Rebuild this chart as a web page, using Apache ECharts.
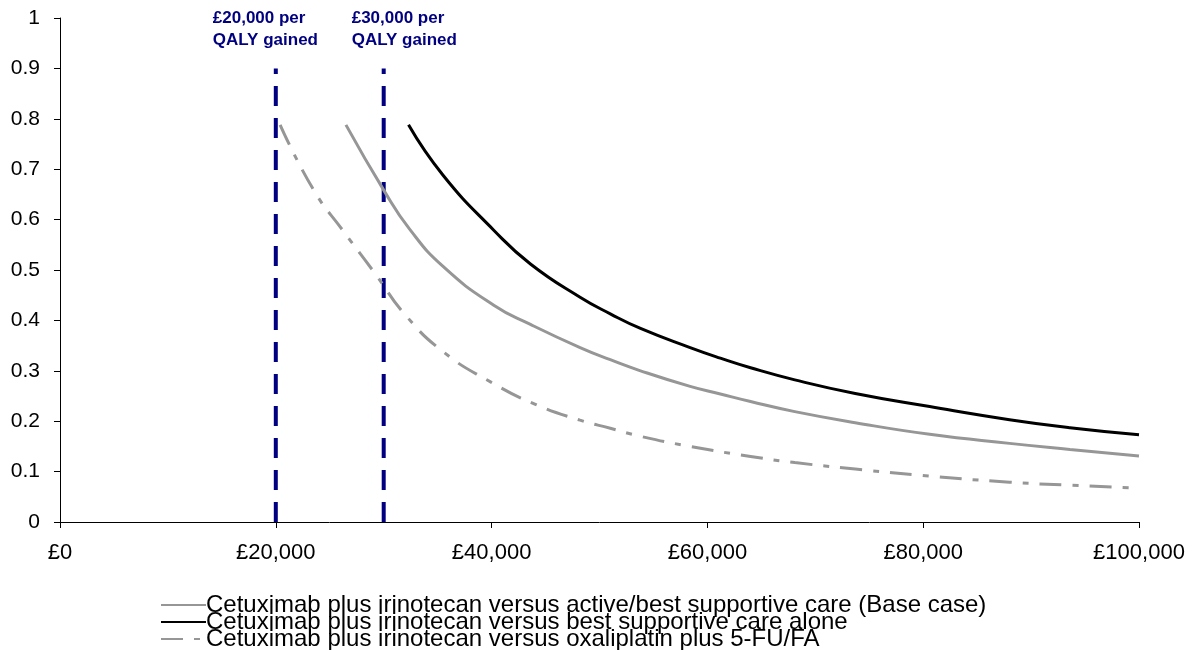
<!DOCTYPE html>
<html>
<head>
<meta charset="utf-8">
<script src="https://cdn.jsdelivr.net/npm/echarts@6/dist/echarts.min.js"></script>
<style>html,body{margin:0;padding:0;background:#fff}#c{width:1197px;height:650px}</style>
</head>
<body>
<div id="c"></div>
<script>
// Data
const xTicks = [0, 20000, 40000, 60000, 80000, 100000];
const seriesNames = [
  'Cetuximab plus irinotecan versus active/best supportive care (Base case)',
  'Cetuximab plus irinotecan versus best supportive care alone',
  'Cetuximab plus irinotecan versus oxaliplatin plus 5-FU/FA'
];
const baseX = [26500, 30100, 32400, 35500, 40200, 43600, 48200, 51000, 53800, 58400, 61200, 64000, 68100, 73700, 80600, 88000, 93600, 100000];
const baseY = [0.788, 0.655, 0.581, 0.507, 0.430, 0.392, 0.346, 0.322, 0.300, 0.269, 0.254, 0.239, 0.219, 0.197, 0.174, 0.156, 0.144, 0.131];
const bscX = [32300, 35500, 40200, 43600, 48200, 51000, 53800, 58400, 61200, 64000, 68100, 73700, 80600, 88000, 93600, 100000];
const bscY = [0.788, 0.688, 0.579, 0.512, 0.446, 0.413, 0.384, 0.346, 0.325, 0.306, 0.282, 0.255, 0.229, 0.203, 0.187, 0.173];
const oxaX = [20400, 23500, 26300, 29200, 32000, 35500, 39900, 44000, 48200, 51000, 53800, 58400, 64000, 68100, 73700, 80600, 88000, 93600, 99900];
const oxaY = [0.788, 0.659, 0.576, 0.493, 0.411, 0.338, 0.278, 0.234, 0.202, 0.186, 0.170, 0.150, 0.130, 0.118, 0.105, 0.091, 0.079, 0.073, 0.067];
const thresholdX = [20000, 30000];
const thresholdTop = 0.9;
const thresholdLabels = ['£20,000 per\nQALY gained', '£30,000 per\nQALY gained'];

const zip = (xs, ys) => xs.map((x, i) => [x, ys[i]]);
const grey = '#969696';
const navy = '#000080';
const font = 'Liberation Sans, Arial, sans-serif';

const thresholdOffsets = [[-63, 0], [-32, 0]];
const thresholdSeries = thresholdX.map((x, i) => ({
  type: 'line',
  name: 'thr' + i,
  data: [[x, 0], [x, thresholdTop]],
  symbol: 'none',
  silent: true,
  lineStyle: { color: navy, width: 4, type: [20, 12] },
  markPoint: {
    symbol: 'circle', symbolSize: 0,
    data: [{ coord: [x, thresholdTop] }],
    label: {
      show: true, position: 'top', distance: 17, offset: thresholdOffsets[i],
      formatter: thresholdLabels[i], color: navy, fontWeight: 'bold',
      fontSize: 17, lineHeight: 22, fontFamily: font, align: 'left'
    }
  }
}));

const legendTops = [593, 610, 627];
const legends = seriesNames.map((n, i) => ({
  data: [n],
  left: 160, top: legendTops[i],
  itemWidth: 45, itemHeight: 14, itemGap: 0,
  padding: 0,
  itemStyle: { opacity: 0 },
  textStyle: { fontSize: 24, lineHeight: 17, color: '#000', fontFamily: font, padding: [0, 0, 0, -5] }
}));

const chart = echarts.init(document.getElementById('c'));
chart.setOption({
  animation: false,
  backgroundColor: '#fff',
  grid: { left: 60, right: 58, top: 18, bottom: 128 },
  legend: legends,
  xAxis: {
    type: 'value', min: 0, max: 100000, interval: 20000,
    axisLine: { lineStyle: { color: '#000', width: 1 } },
    axisTick: { show: true, inside: false, length: 6, lineStyle: { color: '#000' } },
    axisLabel: { color: '#000', fontSize: 22, fontFamily: font, margin: 20,
      formatter: v => '£' + v.toLocaleString('en-GB') },
    splitLine: { show: false }
  },
  yAxis: {
    type: 'value', min: 0, max: 1, interval: 0.1,
    axisLine: { show: true, lineStyle: { color: '#000', width: 1 } },
    axisTick: { show: true, inside: false, length: 6, lineStyle: { color: '#000' } },
    axisLabel: { color: '#000', fontSize: 21, fontFamily: font, margin: 20,
      formatter: v => String(Math.round(v * 10) / 10) },
    splitLine: { show: false }
  },
  series: [
    ...thresholdSeries,
    { type: 'line', name: seriesNames[0], data: zip(baseX, baseY), smooth: 0.5, symbol: 'none',
      lineStyle: { color: grey, width: 3 }, itemStyle: { color: grey } },
    { type: 'line', name: seriesNames[1], data: zip(bscX, bscY), smooth: 0.5, symbol: 'none',
      lineStyle: { color: '#000', width: 3 }, itemStyle: { color: '#000' } },
    { type: 'line', name: seriesNames[2], data: zip(oxaX, oxaY), smooth: 0.5, symbol: 'none',
      lineStyle: { color: grey, width: 3, type: [22, 11, 6, 11] }, itemStyle: { color: grey } }
  ]
});
</script>
</body>
</html>
